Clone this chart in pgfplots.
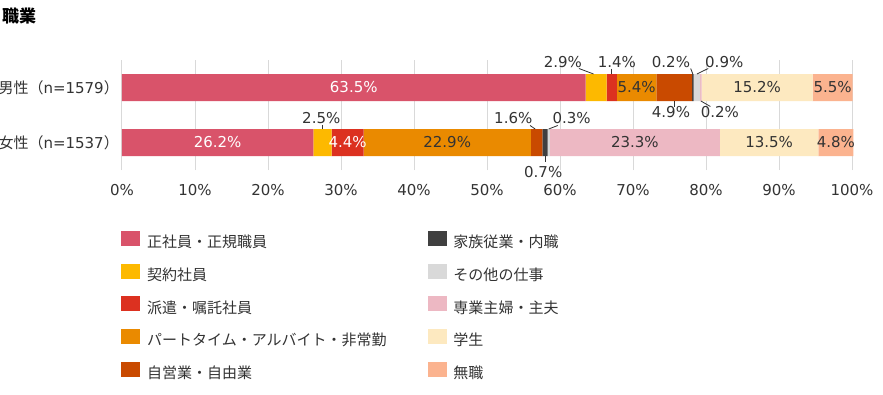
\documentclass[border=0pt]{standalone}
\usepackage{fontspec}
\setmainfont{DejaVu Sans}
\newfontfamily\jp{Noto Sans CJK JP}
\usepackage{pgfplots}
\pgfplotsset{compat=1.18}
\definecolor{c1}{HTML}{D9536A}
\definecolor{c2}{HTML}{FDB900}
\definecolor{c3}{HTML}{DC3120}
\definecolor{c4}{HTML}{EA8A00}
\definecolor{c5}{HTML}{C94A00}
\definecolor{c6}{HTML}{404040}
\definecolor{c7}{HTML}{D9D9D9}
\definecolor{c8}{HTML}{EDB8C3}
\definecolor{c9}{HTML}{FDE9C0}
\definecolor{c10}{HTML}{FBB38F}
\definecolor{txt}{HTML}{333333}
\definecolor{gridc}{HTML}{D9D9D9}
\newcommand{\ff}{\fontsize{15pt}{18pt}\selectfont}
\pgfplotsset{sw/.style={legend image code/.code={\fill[#1] (0pt,-1.5pt) rectangle (18pt,12.5pt);}}}
\tikzset{lab/.style={text=txt, inner sep=0pt, font=\ff},
  wl/.style={text=white, inner sep=0pt, font=\ff},
  ld/.style={draw=txt, line width=0.8pt}}
\begin{document}
\begin{tikzpicture}[font=\ff]
\useasboundingbox (0,0) rectangle (883pt,394pt);
\fill[white] (0,0) rectangle (883pt,394pt);
\node[anchor=west, inner sep=0pt, font=\fontsize{17pt}{20pt}\selectfont\jp\bfseries, text=black] at (2pt,378pt) {職業};
\begin{axis}[
  at={(122pt,224pt)}, anchor=south west,
  scale only axis, width=730pt, height=110pt,
  xbar stacked, bar width=27pt,
  xmin=0, xmax=100, ymin=-0.5, ymax=1.5,
  clip=false,
  axis line style={draw=none},
  tick style={draw=none},
  xmajorgrids, grid style={gridc, line width=1pt},
  xtick={0,10,...,100},
  xticklabels={0\%,10\%,20\%,30\%,40\%,50\%,60\%,70\%,80\%,90\%,100\%},
  ytick={0,1},
  yticklabels={{\jp 女性（}n=1537{\jp ）},{\jp 男性（}n=1579{\jp ）}},
  xticklabel style={inner sep=0pt, yshift=-14pt, text=txt, font=\ff},
  yticklabel style={inner sep=0pt, xshift=-3pt, text=txt, font=\ff},
  legend columns=2,
  legend cell align=left,
  legend style={at={(0,0)}, anchor=north west, xshift=-1pt, yshift=-60.7pt,
    draw=none, fill=none, inner sep=0pt, font=\ff, text=txt, row sep=13pt,
    nodes={inner sep=0pt, text height=11pt, text depth=3pt},
    /tikz/every odd column/.append style={column sep=7.5pt},
    /tikz/every even column/.append style={column sep=0pt}},
  after end axis/.code={
    % male labels
    \node[wl] at (axis cs:31.75,1) {63.5\%};
    \node[lab] at (axis cs:60.4,1) [yshift=25pt] {2.9\%};
    \draw[ld] ([yshift=19pt]axis cs:62.6,1) -- ([yshift=13.5pt]axis cs:64.6,1);
    \node[lab] at (axis cs:67.8,1) [yshift=25pt] {1.4\%};
    \draw[ld] ([yshift=19pt]axis cs:67.1,1) -- ([yshift=13.5pt]axis cs:67.1,1);
    \node[lab] at (axis cs:70.5,1) {5.4\%};
    \node[lab] at (axis cs:75.2,1) [yshift=-25pt] {4.9\%};
    \draw[ld] ([yshift=-13.5pt]axis cs:75.65,1) -- ([yshift=-19pt]axis cs:75.65,1);
    \node[lab] at (axis cs:75.2,1) [yshift=25pt] {0.2\%};
    \draw[ld] ([yshift=19pt]axis cs:77.9,1) -- ([yshift=13.5pt]axis cs:78.2,1);
    \node[lab] at (axis cs:82.5,1) [yshift=25pt] {0.9\%};
    \draw[ld] ([yshift=19pt]axis cs:80.3,1) -- ([yshift=13.5pt]axis cs:78.75,1);
    \node[lab] at (axis cs:81.9,1) [yshift=-25pt] {0.2\%};
    \draw[ld] ([yshift=-13.5pt]axis cs:79.3,1) -- ([yshift=-19pt]axis cs:80.6,1);
    \node[lab] at (axis cs:87.0,1) {15.2\%};
    \node[lab] at (axis cs:97.35,1) {5.5\%};
    % female labels
    \node[wl] at (axis cs:13.1,0) {26.2\%};
    \node[lab] at (axis cs:27.3,0) [yshift=24pt] {2.5\%};
    \draw[ld] ([yshift=18pt]axis cs:27.45,0) -- ([yshift=13.5pt]axis cs:27.45,0);
    \node[wl] at (axis cs:30.9,0) {4.4\%};
    \node[lab] at (axis cs:44.55,0) {22.9\%};
    \node[lab] at (axis cs:53.6,0) [yshift=24pt] {1.6\%};
    \draw[ld] ([yshift=17pt]axis cs:55.9,0) -- ([yshift=13.5pt]axis cs:56.6,0);
    \node[lab] at (axis cs:57.7,0) [yshift=-29.5pt] {0.7\%};
    \draw[ld] ([yshift=-13.5pt]axis cs:57.95,0) -- ([yshift=-19.5pt]axis cs:57.95,0);
    \node[lab] at (axis cs:61.6,0) [yshift=24pt] {0.3\%};
    \draw[ld] ([yshift=17pt]axis cs:59.7,0) -- ([yshift=13.5pt]axis cs:58.45,0);
    \node[lab] at (axis cs:70.25,0) {23.3\%};
    \node[lab] at (axis cs:88.65,0) {13.5\%};
    \node[lab] at (axis cs:97.8,0) {4.8\%};
  },
]
\addplot[fill=c1, draw=none, forget plot] coordinates {(26.2,0) (63.5,1)};
\addplot[fill=c2, draw=none, forget plot] coordinates {(2.5,0) (2.9,1)};
\addplot[fill=c3, draw=none, forget plot] coordinates {(4.4,0) (1.4,1)};
\addplot[fill=c4, draw=none, forget plot] coordinates {(22.9,0) (5.4,1)};
\addplot[fill=c5, draw=none, forget plot] coordinates {(1.6,0) (4.9,1)};
\addplot[fill=c6, draw=none, forget plot] coordinates {(0.7,0) (0.2,1)};
\addplot[fill=c7, draw=none, forget plot] coordinates {(0.3,0) (0.9,1)};
\addplot[fill=c8, draw=none, forget plot] coordinates {(23.3,0) (0.2,1)};
\addplot[fill=c9, draw=none, forget plot] coordinates {(13.5,0) (15.2,1)};
\addplot[fill=c10, draw=none, forget plot] coordinates {(4.8,0) (5.5,1)};

\addlegendimage{sw=c1}\addlegendentry{\makebox[280.5pt][l]{\jp 正社員・正規職員}}
\addlegendimage{sw=c6}\addlegendentry{\jp 家族従業・内職}
\addlegendimage{sw=c2}\addlegendentry{\makebox[280.5pt][l]{\jp 契約社員}}
\addlegendimage{sw=c7}\addlegendentry{\jp その他の仕事}
\addlegendimage{sw=c3}\addlegendentry{\makebox[280.5pt][l]{\jp 派遣・嘱託社員}}
\addlegendimage{sw=c8}\addlegendentry{\jp 専業主婦・主夫}
\addlegendimage{sw=c4}\addlegendentry{\makebox[280.5pt][l]{\jp パートタイム・アルバイト・非常勤}}
\addlegendimage{sw=c9}\addlegendentry{\jp 学生}
\addlegendimage{sw=c5}\addlegendentry{\makebox[280.5pt][l]{\jp 自営業・自由業}}
\addlegendimage{sw=c10}\addlegendentry{\jp 無職}
\end{axis}
\end{tikzpicture}
\end{document}
